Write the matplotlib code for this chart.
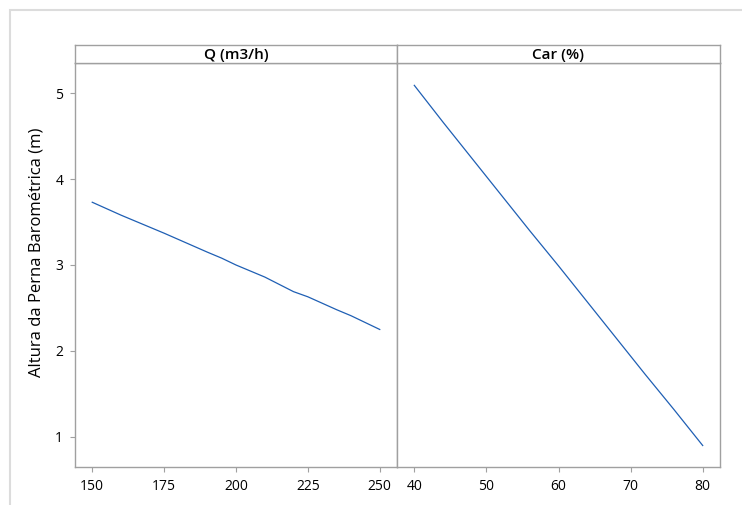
import matplotlib
matplotlib.use("Agg")
from matplotlib import pyplot as plt
from matplotlib.patches import Rectangle

plt.rcParams['font.family'] = ['Open Sans', 'DejaVu Sans']

# dados
q_vals = [150, 160, 165, 175, 190, 195, 200, 210, 220, 225, 235, 240, 250]
q_resp = [3.73, 3.58, 3.51, 3.37, 3.15, 3.08, 3.00, 2.86, 2.69, 2.63, 2.48, 2.41, 2.25]
car_vals = [40, 44, 48, 52, 56, 60, 64, 68, 72, 76, 80]
car_resp = [5.09, 4.66, 4.24, 3.82, 3.40, 2.99, 2.57, 2.15, 1.73, 1.32, 0.90]

q_ticks = [150, 175, 200, 225, 250]
car_ticks = [40, 50, 60, 70, 80]
y_ticks = [1, 2, 3, 4, 5]

titles = ['Q (m3/h)', 'Car (%)']
ylabel = 'Altura da Perna Barométrica (m)'

W, H = 742, 505
fig = plt.figure(figsize=(W / 100, H / 100), dpi=100)

# moldura externa
fig.add_artist(Rectangle((10 / W, -0.1), 2, (H - 10) / H + 0.1,
                         transform=fig.transFigure, fill=False,
                         edgecolor='#dcdcdc', lw=1.5))

line_color = '#1f5fb4'
spine_color = '#a0a0a0'

lefts = [75, 397]
rights = [397, 720]
top, bottom, strip_top = 63, 467, 45

series = [(q_vals, q_resp, q_ticks, (144, 256)),
          (car_vals, car_resp, car_ticks, (37.6, 82.4))]

for i, (xs, ys, ticks, xlim) in enumerate(series):
    l, r = lefts[i], rights[i]
    ax = fig.add_axes([l / W, (H - bottom) / H, (r - l) / W, (bottom - top) / H])
    ax.plot(xs, ys, color=line_color, lw=0.9)
    ax.set_xlim(*xlim)
    ax.set_ylim(0.65, 5.35)
    ax.set_xticks(ticks)
    ax.set_xticklabels([str(t) for t in ticks])
    ax.set_yticks(y_ticks)
    for s in ax.spines.values():
        s.set_color(spine_color)
        s.set_linewidth(1.0)
    ax.tick_params(direction='out', length=3.5, width=0.8, color=spine_color,
                   labelsize=10, pad=5)
    if i == 0:
        ax.set_ylabel(ylabel, fontsize=12)
        ax.yaxis.set_label_coords(-30 / (r - l), 0.532)
    else:
        ax.tick_params(axis='y', left=False, labelleft=False)

    # faixa do titulo
    sax = fig.add_axes([l / W, (H - top) / H, (r - l) / W, (top - strip_top) / H])
    sax.set_xticks([])
    sax.set_yticks([])
    for s in sax.spines.values():
        s.set_color(spine_color)
        s.set_linewidth(1.0)
    sax.text(0.5, 0.42, titles[i], ha='center', va='center',
             fontsize=11, fontweight='semibold', transform=sax.transAxes)

fig.savefig('out.png', dpi=100)
